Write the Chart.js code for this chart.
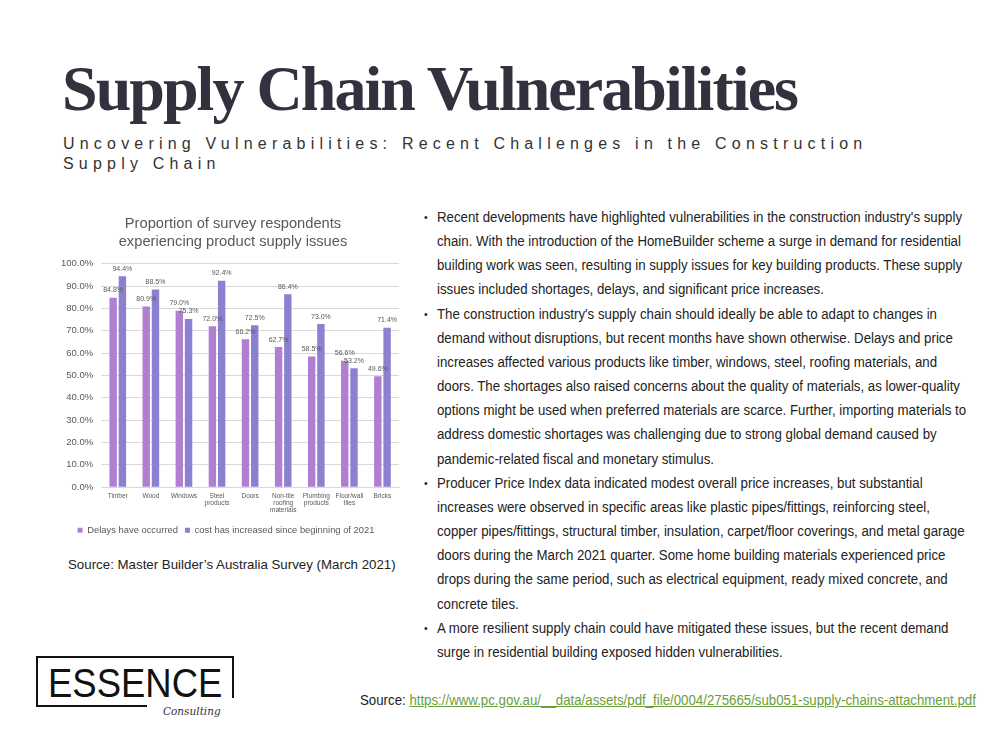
<!DOCTYPE html>
<html>
<head>
<meta charset="utf-8">
<script src="https://cdn.jsdelivr.net/npm/chart.js@4"></script>
<style>
  body { margin: 0; width: 1000px; height: 750px; background: #fff; position: relative; overflow: hidden; font-family: "Liberation Sans", Arial, sans-serif; }
  .abs { position: absolute; }
  #title { left: 62px; top: 52px; font-family: "Liberation Serif", "Times New Roman", serif; font-weight: bold; font-size: 64px; letter-spacing: -1.95px; color: #32323f; white-space: nowrap; }
  #subtitle { left: 63px; top: 134px; font-size: 16px; letter-spacing: 5.2px; line-height: 20px; color: #333; white-space: nowrap; }
  #bullets { left: 424px; top: 205px; width: 600px; font-size: 14px; line-height: 24.15px; color: #222; transform: scaleX(0.947); transform-origin: 0 0; }
  #bullets .ln { white-space: nowrap; padding-left: 13.7px; position: relative; }
  #bullets .ln.b::before { content: "\2022"; position: absolute; left: 0; top: 0; font-size: 11px; }
  #chartBox { left: 49px; top: 205px; width: 356px; height: 344px; }
  #chartSrc { left: 68px; top: 557px; font-size: 13.3px; color: #222; white-space: nowrap; }
  #src { left: 360px; top: 692px; font-size: 14px; color: #222; white-space: nowrap; transform: scaleX(0.947); transform-origin: 0 0; }
  #src a { color: #6b9e3a; text-decoration: underline; }
  .line { background: #111; }
  #ess { left: 48px; top: 665px; font-size: 41px; line-height: 36px; color: #111; transform: scaleX(0.89); transform-origin: 0 0; }
  #cons { left: 163px; top: 706px; font-family: "DejaVu Serif", serif; font-style: italic; font-size: 10.5px; line-height: 11px; color: #333; }
</style>
</head>
<body>
<div id="title" class="abs">Supply Chain Vulnerabilities</div>
<div id="subtitle" class="abs">Uncovering Vulnerabilities: Recent Challenges in the Construction<br>Supply Chain</div>

<div id="chartBox" class="abs"><canvas id="supplyChart"></canvas></div>
<div id="chartSrc" class="abs">Source: Master Builder’s Australia Survey (March 2021)</div>

<div id="bullets" class="abs">
  <div class="ln b">Recent developments have highlighted vulnerabilities in the construction industry's supply</div>
  <div class="ln">chain. With the introduction of the HomeBuilder scheme a surge in demand for residential</div>
  <div class="ln">building work was seen, resulting in supply issues for key building products. These supply</div>
  <div class="ln">issues included shortages, delays, and significant price increases.</div>
  <div class="ln b">The construction industry's supply chain should ideally be able to adapt to changes in</div>
  <div class="ln">demand without disruptions, but recent months have shown otherwise. Delays and price</div>
  <div class="ln">increases affected various products like timber, windows, steel, roofing materials, and</div>
  <div class="ln">doors. The shortages also raised concerns about the quality of materials, as lower-quality</div>
  <div class="ln">options might be used when preferred materials are scarce. Further, importing materials to</div>
  <div class="ln">address domestic shortages was challenging due to strong global demand caused by</div>
  <div class="ln">pandemic-related fiscal and monetary stimulus.</div>
  <div class="ln b">Producer Price Index data indicated modest overall price increases, but substantial</div>
  <div class="ln">increases were observed in specific areas like plastic pipes/fittings, reinforcing steel,</div>
  <div class="ln">copper pipes/fittings, structural timber, insulation, carpet/floor coverings, and metal garage</div>
  <div class="ln">doors during the March 2021 quarter. Some home building materials experienced price</div>
  <div class="ln">drops during the same period, such as electrical equipment, ready mixed concrete, and</div>
  <div class="ln">concrete tiles.</div>
  <div class="ln b">A more resilient supply chain could have mitigated these issues, but the recent demand</div>
  <div class="ln">surge in residential building exposed hidden vulnerabilities.</div>
</div>

<!-- logo -->
<div class="abs line" style="left:36px;top:656px;width:198px;height:2px;"></div>
<div class="abs line" style="left:36px;top:656px;width:2px;height:51px;"></div>
<div class="abs line" style="left:36px;top:705px;width:111px;height:2px;"></div>
<div class="abs line" style="left:232px;top:656px;width:2px;height:42px;"></div>
<div id="ess" class="abs">ESSENCE</div>
<div id="cons" class="abs">Consulting</div>

<div id="src" class="abs">Source: <a>https://www.pc.gov.au/__data/assets/pdf_file/0004/275665/sub051-supply-chains-attachment.pdf</a></div>

<script>
const categories = ['Timber', 'Wood', 'Windows', ['Steel', 'products'], 'Doors', ['Non-tile', 'roofing', 'materials'], ['Plumbing', 'products'], ['Floor/wall', 'tiles'], 'Bricks'];
const delays = [84.8, 80.9, 79.0, 72.0, 66.2, 62.7, 58.5, 56.6, 49.6];
const costUp = [94.4, 88.5, 75.3, 92.4, 72.5, 86.4, 73.0, 53.2, 71.4];
const yTicks = [0, 10, 20, 30, 40, 50, 60, 70, 80, 90, 100];

const textGray = '#595959';
const fontFam = '"Liberation Sans", Arial, sans-serif';

const valueLabels = {
  id: 'valueLabels',
  afterDatasetsDraw(chart) {
    const c = chart.ctx;
    c.save();
    c.font = '7px ' + fontFam;
    c.fillStyle = textGray;
    c.textAlign = 'center';
    c.textBaseline = 'bottom';
    chart.data.datasets.forEach((ds, i) => {
      chart.getDatasetMeta(i).data.forEach((bar, j) => {
        c.fillText(ds.data[j].toFixed(1) + '%', bar.x, bar.y - 4);
      });
    });
    c.restore();
  }
};

// the original title sits a little right of the chart's centre
const nudgeTitle = {
  id: 'nudgeTitle',
  afterLayout(chart) {
    if (chart.titleBlock) {
      chart.titleBlock.left += 7;
      chart.titleBlock.right += 7;
    }
  }
};

const ctx = document.getElementById('supplyChart');
new Chart(ctx, {
  type: 'bar',
  data: {
    labels: categories,
    datasets: [
      { label: 'Delays have occurred', data: delays, backgroundColor: '#b07fd2', barPercentage: 0.8, categoryPercentage: 0.56 },
      { label: 'cost has increased since beginning of 2021', data: costUp, backgroundColor: '#8a81d1', barPercentage: 0.8, categoryPercentage: 0.56 }
    ]
  },
  options: {
    responsive: true,
    maintainAspectRatio: false,
    animation: false,
    layout: { padding: { left: 4, right: 6, top: 6, bottom: 4 } },
    plugins: {
      title: {
        display: true,
        text: ['Proportion of survey respondents', 'experiencing product supply issues'],
        color: textGray,
        font: { size: 14.7, family: fontFam, weight: 'normal', lineHeight: 1.2 },
        padding: { top: 4, bottom: 13.5 }
      },
      legend: {
        position: 'bottom',
        labels: { color: textGray, boxWidth: 5, boxHeight: 5, padding: 7, font: { size: 9.4, family: fontFam } }
      },
      tooltip: { enabled: false }
    },
    scales: {
      x: {
        grid: { display: false, drawTicks: false },
        border: { color: '#d9d9d9' },
        ticks: { color: textGray, maxRotation: 0, autoSkip: false, padding: 5, font: { size: 6.5, family: fontFam, lineHeight: 1.1 } }
      },
      y: {
        min: 0,
        max: 100,
        afterBuildTicks: (axis) => { axis.ticks = yTicks.map(v => ({ value: v })); },
        grid: { color: '#d9d9d9', drawTicks: false },
        border: { display: false },
        ticks: { color: textGray, padding: 8, callback: (v) => v.toFixed(1) + '%', font: { size: 9.5, family: fontFam } }
      }
    }
  },
  plugins: [valueLabels, nudgeTitle]
});
</script>
</body>
</html>
